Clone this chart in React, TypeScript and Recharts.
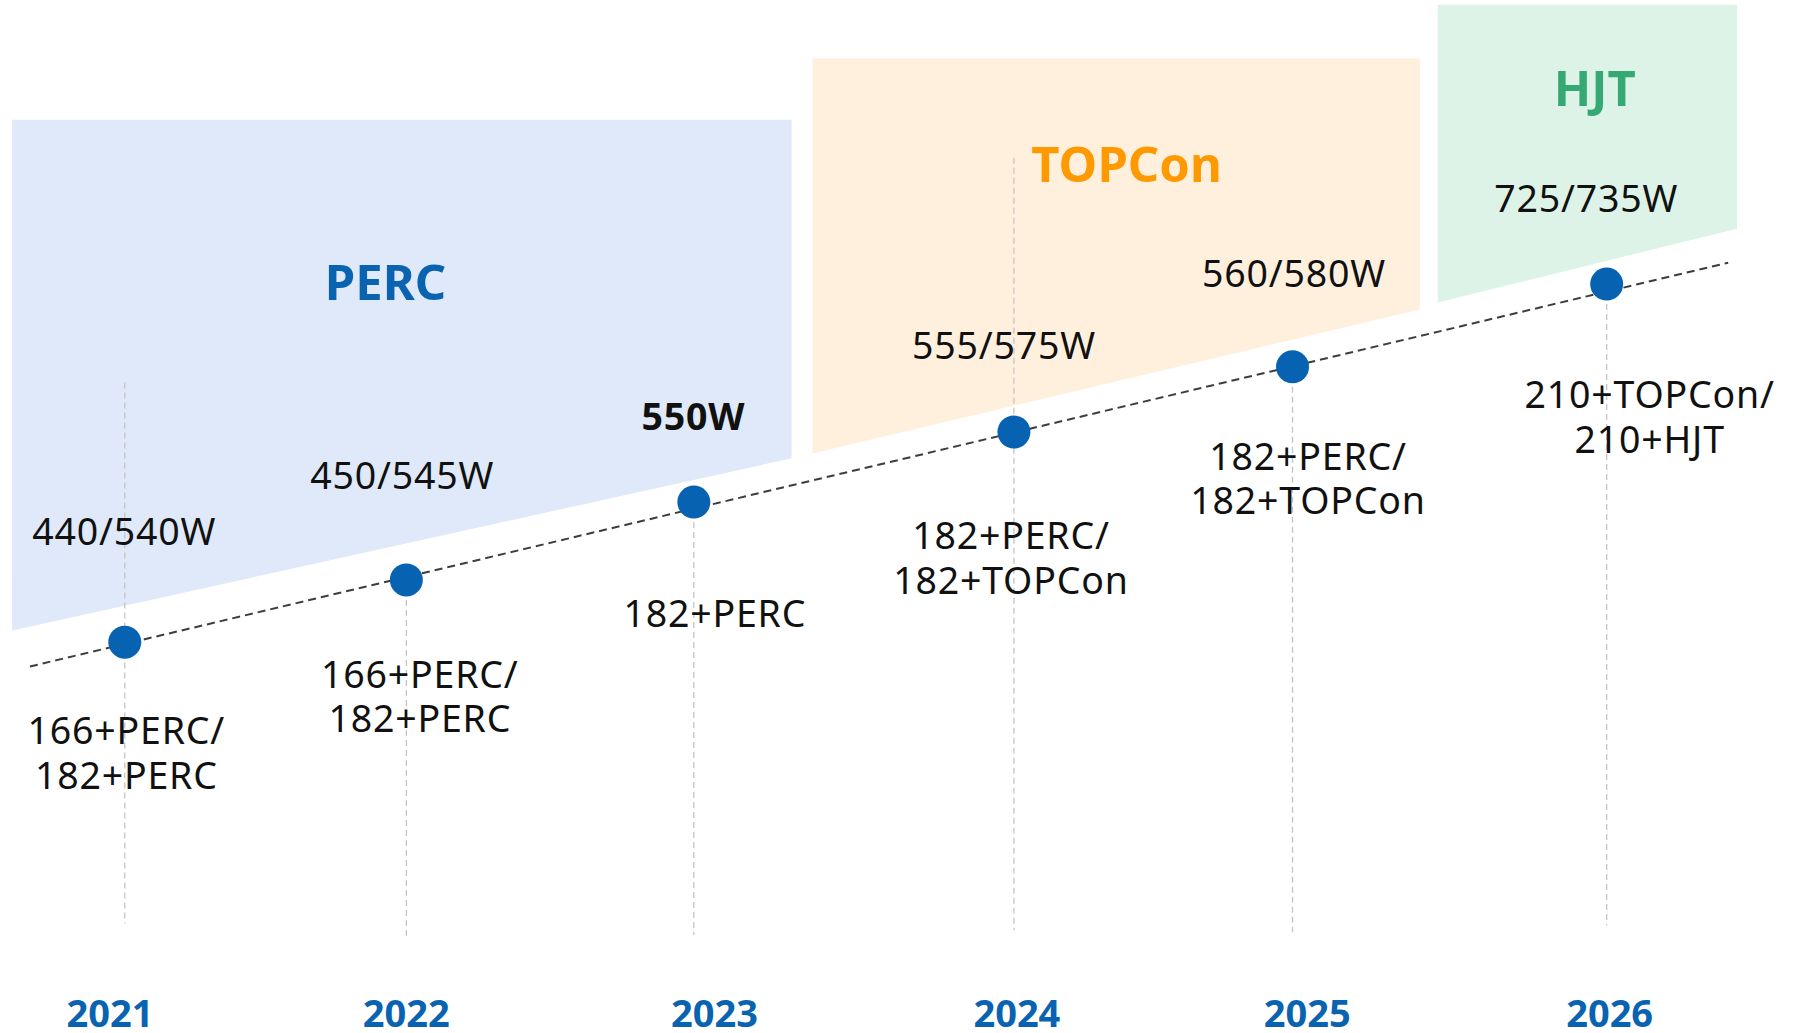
import React from 'react';
import { ComposedChart, Area, Line, Scatter, XAxis, YAxis, ReferenceLine } from 'recharts';

// timeline milestones
const years = ['2021', '2022', '2023', '2024', '2025', '2026'];
const yearPos = [2021.0, 2021.95, 2022.92, 2024.0, 2024.94, 2026.0];
const yearLabelPos = [2020.95, 2021.95, 2022.99, 2024.01, 2024.99, 2026.01];
const trendLevel = [34.0, 40.4, 48.4, 55.6, 62.3, 70.8];
const powerLabels = ['440/540W', '450/545W', '550W', '555/575W', '560/580W', '725/735W'];
const cellLabels = [
  ['166+PERC/', '182+PERC'],
  ['166+PERC/', '182+PERC'],
  ['182+PERC'],
  ['182+PERC/', '182+TOPCon'],
  ['182+PERC/', '182+TOPCon'],
  ['210+TOPCon/', '210+HJT'],
];

// vertical guides (level units)
const guideTop = [60.7, 40.4, 48.4, 83.8, 62.3, 70.8];
const guideBottom = [5.1, 3.7, 3.9, 4.4, 4.2, 4.9];

// dashed trend line end points
const trendX = [2020.68, 2026.41];
const trendY = [31.5, 73.0];

// technology zones
const zoneKeys = ['perc', 'topcon', 'hjt'];
const zoneNames = ['PERC', 'TOPCon', 'HJT'];
const zoneStart = [2020.62, 2023.32, 2025.43];
const zoneEnd = [2023.25, 2025.37, 2026.44];
const zoneTop = [87.7, 94.0, 99.5];
const zoneFloorStart = [35.2, 53.4, 68.9];
const zoneFloorEnd = [52.9, 68.2, 76.5];
const zoneTitleX = [2021.88, 2024.38, 2025.96];
const zoneTitleY = [69.2, 81.3, 89.1];

const zoneFill = ['#dfe9f9', '#fff0de', '#ddf3e8'];
const zoneColor = ['#0a63b0', '#ff9900', '#36a874'];

const FONT = '"Noto Sans", "Open Sans", sans-serif';

// label offsets from each dot, in px: [dx, dy of baseline]
const topShift = [[-0.5, -97], [-4, -91], [-0.5, -72], [-10, -73], [1.5, -80], [-20.5, -72]];
const bottomShift = [[1.5, 102], [13.5, 108], [21, 125], [-3, 117], [15.5, 103], [43, 124]];

const rows: any[] = [];
zoneKeys.forEach((k, i) => {
  rows.push({ x: zoneStart[i], [k]: [zoneFloorStart[i], zoneTop[i]] });
  rows.push({ x: zoneEnd[i], [k]: [zoneFloorEnd[i], zoneTop[i]] });
});
trendX.forEach((x, i) => rows.push({ x, trend: trendY[i] }));
rows.sort((a, b) => a.x - b.x);

const dots = yearPos.map((x, i) => ({ x, level: trendLevel[i], i }));
const titles = zoneNames.map((name, i) => ({ x: zoneTitleX[i], level: zoneTitleY[i], i }));

const MilestoneDot = (props: any) => {
  const { cx, cy, payload } = props;
  const i = payload.i;
  const [tx, ty] = topShift[i];
  const [bx, by] = bottomShift[i];
  return (
    <g>
      <circle cx={cx} cy={cy} r={16.5} fill="#0762b2" />
      <text
        x={cx + tx}
        y={cy + ty}
        textAnchor="middle"
        fontFamily={FONT}
        fontSize={37.5}
        fontWeight={i === 2 ? 700 : 400}
        letterSpacing={0.8}
        fill="#111"
      >
        {powerLabels[i]}
      </text>
      {cellLabels[i].map((line, k) => (
        <text
          key={k}
          x={cx + bx}
          y={cy + by + k * 44.5}
          textAnchor="middle"
          fontFamily={FONT}
          fontSize={37.5}
          letterSpacing={0.8}
          fill="#111"
        >
          {line}
        </text>
      ))}
    </g>
  );
};

const ZoneTitle = (props: any) => {
  const { cx, cy, payload } = props;
  return (
    <text x={cx} y={cy} textAnchor="middle" fontFamily={FONT} fontSize={49} fontWeight={700} fill={zoneColor[payload.i]}>
      {zoneNames[payload.i]}
    </text>
  );
};

const YearTick = (props: any) => {
  const { x, y, payload } = props;
  const idx = yearLabelPos.findIndex((p) => Math.abs(p - payload.value) < 1e-6);
  return (
    <text x={x} y={y + 54} textAnchor="middle" fontFamily={FONT} fontSize={38} fontWeight={700} fill="#0a63b0">
      {years[idx]}
    </text>
  );
};

export default function App() {
  return (
    <div style={{ position: 'absolute', left: 0, top: 0, width: 1810, height: 1033, background: '#fff' }}>
      <ComposedChart width={1810} height={1033} data={rows} margin={{ top: 0, right: 0, bottom: 0, left: 0 }}>
        <XAxis
          dataKey="x"
          type="number"
          domain={[2020.579, 2026.686]}
          ticks={yearLabelPos}
          interval={0}
          tick={<YearTick />}
          tickSize={0}
          tickMargin={0}
          axisLine={false}
          tickLine={false}
          height={60}
          allowDataOverflow
        />
        <YAxis type="number" domain={[0, 100]} hide allowDataOverflow />
        {zoneKeys.map((k, i) => (
          <Area
            key={k}
            dataKey={k}
            type="linear"
            stroke="none"
            fill={zoneFill[i]}
            fillOpacity={1}
            connectNulls
            dot={false}
            activeDot={false}
            isAnimationActive={false}
          />
        ))}
        {yearPos.map((x, i) => (
          <ReferenceLine
            key={years[i]}
            segment={[{ x, y: guideTop[i] }, { x, y: guideBottom[i] }]}
            stroke="#c4c4c4"
            strokeWidth={1.3}
            strokeDasharray="6 4"
          />
        ))}
        <Line
          dataKey="trend"
          type="linear"
          stroke="#3d3d3d"
          strokeWidth={2}
          strokeDasharray="8 5"
          dot={false}
          activeDot={false}
          connectNulls
          isAnimationActive={false}
        />
        <Scatter data={dots} dataKey="level" shape={<MilestoneDot />} isAnimationActive={false} />
        <Scatter data={titles} dataKey="level" shape={<ZoneTitle />} isAnimationActive={false} />
      </ComposedChart>
    </div>
  );
}
